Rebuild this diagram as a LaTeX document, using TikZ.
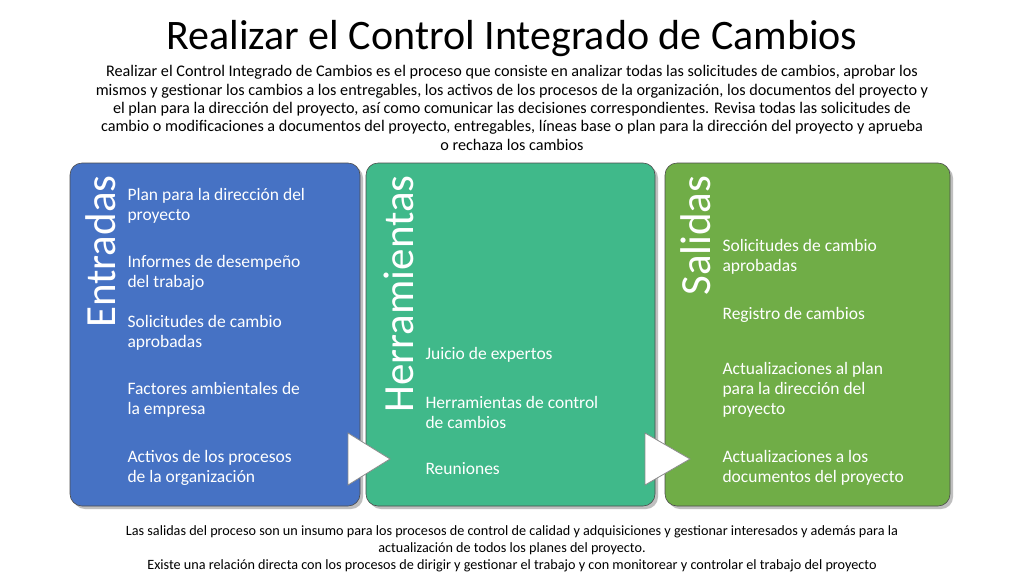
\documentclass[tikz,border=0pt]{standalone}
\usepackage{fontspec}
\setmainfont{Carlito}
\begin{document}
\begin{tikzpicture}[x=1pt,y=-1pt,
  panel/.style={draw=black!70,line width=0.6pt,rounded corners=12pt},
  shad/.style={fill=black!25,rounded corners=12pt},
  vert/.style={rotate=90,anchor=north east,text=white,font=\fontsize{43}{43}\selectfont},
  item/.style={anchor=west,align=left,text=white,font=\fontsize{17.5}{20}\selectfont},
  tri/.style={fill=white,draw=black!45,line width=0.8pt},
  txt/.style={align=center}]
\useasboundingbox (0,0) rectangle (1024,576);
\fill[white] (0,0) rectangle (1024,576);
\node[font=\fontsize{42}{44}\selectfont] (title) at (512,39) {Realizar el Control Integrado de Cambios};
\node[txt,font=\fontsize{16.2}{18.3}\selectfont] (sub) at (512,108) {Realizar el Control Integrado de Cambios es el proceso que consiste en analizar todas las solicitudes de cambios, aprobar los\\ mismos y gestionar los cambios a los entregables, los activos de los procesos de la organización, los documentos del proyecto y\\ el plan para la dirección del proyecto, así como comunicar las decisiones correspondientes. Revisa todas las solicitudes de\\ cambio o modificaciones a documentos del proyecto, entregables, líneas base o plan para la dirección del proyecto y aprueba\\ o rechaza los cambios};
\fill[shad] (73,166) rectangle (363,509);
\draw[panel,fill={rgb,255:red,70;green,114;blue,196}] (70,163) rectangle (360,506);
\fill[shad] (369,166) rectangle (658,509);
\draw[panel,fill={rgb,255:red,64;green,185;blue,138}] (366,163) rectangle (655,506);
\fill[shad] (668,166) rectangle (953,509);
\draw[panel,fill={rgb,255:red,112;green,173;blue,71}] (665,163) rectangle (950,506);
\node[vert] (e) at (82,172) {Entradas};
\node[vert] (h) at (380,172) {Herramientas};
\node[vert] (s) at (677,172) {Salidas};
\node[item] at (124,206) {Plan para la dirección del\\proyecto};
\node[item] at (124,273) {Informes de desempeño\\del trabajo};
\node[item] at (124,333) {Solicitudes de cambio\\aprobadas};
\node[item] at (124,400) {Factores ambientales de\\la empresa};
\node[item] at (124,468) {Activos de los procesos\\de la organización};
\node[item] at (422,355) {Juicio de expertos};
\node[item] at (422,412) {Herramientas de control\\de cambios};
\node[item] at (422,469) {Reuniones};
\node[item] at (719,257) {Solicitudes de cambio\\aprobadas};
\node[item] at (719,315) {Registro de cambios};
\node[item] at (719,390) {Actualizaciones al plan\\para la dirección del\\proyecto};
\node[item] at (719,468) {Actualizaciones a los\\documentos del proyecto};
\draw[tri] (348,433) -- (348,485) -- (390,459) -- cycle;
\draw[tri] (645,433) -- (645,485) -- (690,459) -- cycle;
\node[txt,font=\fontsize{14.2}{17}\selectfont] (bot) at (512,549) {Las salidas del proceso son un insumo para los procesos de control de calidad y adquisiciones y gestionar interesados y además para la\\ actualización de todos los planes del proyecto.\\ Existe una relación directa con los procesos de dirigir y gestionar el trabajo y con monitorear y controlar el trabajo del proyecto};
\end{tikzpicture}
\end{document}
